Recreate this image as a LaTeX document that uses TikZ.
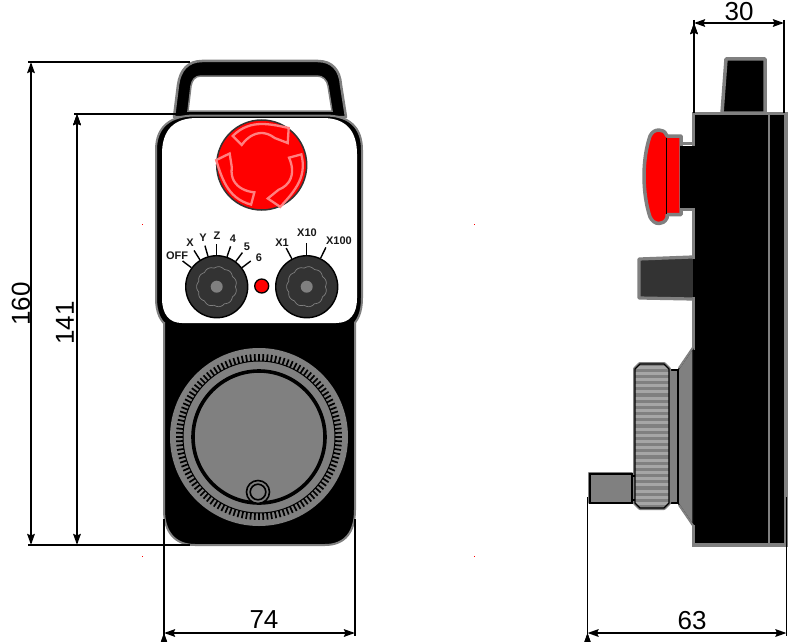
\documentclass[tikz,border=0pt]{standalone}
\usepackage{fontspec}
\setmainfont{Liberation Sans}
\usetikzlibrary{arrows.meta,positioning}
\definecolor{edgegray}{HTML}{808080}
\definecolor{knobgray}{HTML}{333333}
\definecolor{ridgegray}{HTML}{A6A6A6}
\definecolor{arrowpink}{HTML}{FF8080}
\tikzset{
    %Define standard arrow tip
    >={Stealth[length=11pt,width=7.5pt,inset=1.5pt]},
    %Define style for dimension lines
    dimline/.style={
           <->,
           draw=black,
           line width=2},
    extline/.style={
           draw=black,
           line width=1.9},
    dimlabel/.style={
           font=\fontsize{26}{26}\selectfont,
           inner sep=0pt},
    %Define style for the dial parts
    knob/.style={
           circle,
           draw=black,
           line width=1.4,
           fill=knobgray,
           minimum size=62,
           inner sep=0pt},
    knobhub/.style={
           circle,
           fill=edgegray,
           minimum size=12,
           inner sep=0pt},
    ticklabel/.style={
           font=\fontsize{11}{11}\selectfont\bfseries,
           text=black!90,
           inner sep=0pt},
    tick/.style={
           draw=black,
           line width=1.4},
    lamp/.style={
           circle,
           draw=black,
           line width=1.3,
           fill=red,
           minimum size=14,
           inner sep=0pt},
    %Define style for black housing parts
    housing/.style={
           fill=black,
           draw=edgegray,
           line width=3.5,
           line join=round},
    thinblack/.style={
           draw=black,
           line width=1.1}
}
\begin{document}
\begin{tikzpicture}[x=1pt,y=-1pt]
\useasboundingbox (0,0) rectangle (800,642);
%stray marks
\foreach \xx/\yy in {142.3/224.3,474.3/224.3,142.3/556.3,474.3/556.3}
  \fill[red] (\xx-.7,\yy-.7) rectangle (\xx+.7,\yy+.7);
%front view: handle
\draw[housing,line width=2.5] (174,117) -- (178,85) .. controls (180,70) and (188,61) .. (202,61)
  -- (318,61) .. controls (332,61) and (340,70) .. (341,85) -- (346,117) -- cycle;
\draw[fill=white,draw=edgegray,line width=1.5] (188,111) -- (191,86) .. controls (192,80) and (195,76) .. (201,76)
  -- (317,76) .. controls (323,76) and (327,80) .. (328,86) -- (332,111) -- cycle;
\draw[black,line width=1.5] (186,112.6) -- (334,112.6);
%front view: body
\draw[fill=black,draw=edgegray,line width=2,line join=round]
  (156,150) .. controls (156,127) and (170,115.5) .. (195,115.5) -- (325,115.5)
  .. controls (349,115.5) and (362,127) .. (362,150) -- (362,298)
  .. controls (362,312) and (358,322) .. (350,327) -- (169,327)
  .. controls (160,322) and (156,312) .. (156,298) -- cycle;
\draw[housing,line width=2] (164,322) -- (164,510) .. controls (164,532) and (175,545) .. (195,545)
  -- (325,545) .. controls (345,545) and (355,532) .. (355,510) -- (355,322);
\fill[white] (162,154) .. controls (162,130) and (174,118) .. (197,118) -- (323,118)
  .. controls (345,118) and (357,130) .. (357,154) -- (357,298)
  .. controls (357,314) and (350,323) .. (336,323) -- (182,323)
  .. controls (169,323) and (162,314) .. (162,298) -- cycle;
%emergency stop
\node[circle,draw=knobgray,line width=1.5,fill=red,minimum size=90,inner sep=0pt] (estop) at (261.7,165) {};
\foreach \ang in {0,120,240}{
  \begin{scope}[shift={(estop.center)},rotate=\ang]
    \draw[arrowpink,line width=2.3,line join=miter]
      (-29,-29) .. controls (-20,-38) and (-10,-41) .. (0,-41) .. controls (9,-41) and (18,-39) .. (27,-37)
      -- (26,-22) -- (13,-27) .. controls (8,-31) and (3,-32) .. (0,-32)
      .. controls (-8,-32) and (-15,-27) .. (-20,-20) -- cycle;
  \end{scope}
}
%selector knobs
\node[knob] (axisknob) at (216.7,286.7) {};
\node[knob] (stepknob) at (306.7,286.7) {};
\foreach \knobname in {axisknob,stepknob}{
  \node[knobhub] (\knobname hub) at (\knobname.center) {};
  \begin{scope}[shift={(\knobname.center)}]
    \draw[edgegray,line width=.7] plot[domain=0:360,samples=181,smooth]
      ({(18.7+1.4*abs(sin(5.5*\x)))*cos(\x)},{(18.7+1.4*abs(sin(5.5*\x)))*sin(\x)}) -- cycle;
  \end{scope}
}
\foreach \ang in {143,122,106,90,71,53,37}
  \draw[tick] (axisknob.\ang) -- ++(\ang:11pt);
\foreach \ang in {118,90,64}
  \draw[tick] (stepknob.\ang) -- ++(\ang:12pt);
\node[lamp] (lamp) at (261.7,286) {};
\node[ticklabel] (off) at (177,256) {OFF};
\node[ticklabel] (x) at (190,243) {X};
\node[ticklabel] (y) at (203,238) {Y};
\node[ticklabel] (z) at (217,236) {Z};
\node[ticklabel] (four) at (233,239) {4};
\node[ticklabel] (five) at (247,247) {5};
\node[ticklabel] (six) at (259,258) {6};
\node[ticklabel] (xone) at (282,243) {X1};
\node[ticklabel] (xten) at (307,233) {X10};
\node[ticklabel] (xhundred) at (339,241) {X100};
%handwheel
\coordinate (wheelc) at (259,437);
\fill[edgegray] (wheelc) circle[radius=89];
\begin{scope}[shift={(wheelc)}]
  \foreach \ang in {0,3,...,357}
    \draw[black,line width=1.7] (\ang:76pt) -- (\ang:83pt);
\end{scope}
\draw[black,line width=1] (wheelc) circle[radius=76];
\draw[black,line width=3.6] (wheelc) circle[radius=66];
\draw[black,line width=1.6,fill=edgegray] (258,492) circle[radius=11.5];
\draw[black,line width=1.6] (258,492) circle[radius=7.8];
%side view: handle and body
\draw[housing] (726,59) -- (765,59) -- (765,113) -- (722,113) -- cycle;
\draw[housing,line join=miter] (693.5,113.5) rectangle (786,545);
\fill[black] (691,146) rectangle (696,208);
\fill[black] (691,259) rectangle (696,297);
\fill[black] (691,350) rectangle (696,525);
\draw[edgegray,line width=2] (769,115) -- (769,544);
%side view: emergency stop
\draw[edgegray,line width=3.5] (681,143.5) -- (692,143.5) (681,209.5) -- (692,209.5);
\draw[draw=edgegray,line width=3.5,fill=red,line join=round]
  (667,136) -- (681,136) -- (681,214.5) -- (667,214.5) -- (667,218)
  .. controls (665,222) and (662,223.5) .. (659,223.5) .. controls (655,223.5) and (652,221) .. (650,217)
  .. controls (646,205) and (644,190) .. (644,176) .. controls (644,162) and (646,148) .. (650,136)
  .. controls (652,132) and (655,130) .. (659,130) .. controls (662,130) and (665,131) .. (667,136) -- cycle;
\draw[black,line width=.8] (666,138) -- (666,214);
\fill[black] (680,145.5) rectangle (696,207.5);
%side view: stub
\draw[draw=edgegray,line width=3.2,fill=knobgray,line join=round] (692,257) -- (639,259) -- (639,298) -- (692,299);
\fill[knobgray] (685,258.6) rectangle (692.5,297.4);
%side view: handwheel
\draw[thinblack,fill=edgegray] (678,370) -- (693,348) -- (693,525) -- (678,503) -- cycle;
\draw[edgegray,line width=2] (694,346) -- (679,368) (694,527) -- (679,505);
\draw[thinblack,fill=edgegray] (669,370) rectangle (678,503);
\draw[draw=edgegray,line width=4,line join=round] (635,369) -- (640,364) -- (664,364) -- (669,369) -- (669,503) -- (664,508) -- (640,508) -- (635,503) -- cycle;
\begin{scope}
  \clip (635,369) -- (640,364) -- (664,364) -- (669,369) -- (669,503) -- (664,508) -- (640,508) -- (635,503) -- cycle;
  \fill[edgegray] (635,364) rectangle (669,508);
  \foreach \yy in {367,373.2,...,508}
    \draw[ridgegray,line width=3] (635,\yy) -- (669,\yy);
\end{scope}
\draw[thinblack] (635,369) -- (640,364) -- (664,364) -- (669,369) -- (669,503) -- (664,508) -- (640,508) -- (635,503) -- cycle;
\draw[draw=edgegray,line width=2.6,line join=round] (589,473) rectangle (632,503);
\draw[thinblack,fill=edgegray] (590,474) rectangle (632,503);
\draw[thinblack] (632,476) -- (635,476) (632,500) -- (635,500);
%dimensions
\coordinate (topA) at (31,62);
\coordinate (topB) at (190,62);
\coordinate (midA) at (77,114);
\coordinate (midB) at (177,114);
\coordinate (lowA) at (31,545);
\coordinate (lowB) at (77,545);
\coordinate (lowC) at (190,545);
\path[extline] ([xshift=-3pt]topA) edge (topB) ([xshift=-3pt]midA) edge (midB) ([xshift=-3pt]lowA) edge (lowC);
\path[dimline] (topA) edge (lowA) (midA) edge (lowB);
\node[dimlabel,rotate=90] (dimtotal) at (21,304) {160};
\node[dimlabel,rotate=90] (dimbody) at (65,323) {141};
\coordinate (widA) at (164,633);
\coordinate (widB) at (355,633);
\coordinate (widAup) at (164,519);
\coordinate (widBup) at (355,519);
\path[extline] (widAup) edge ([yshift=-3pt]widA) (widBup) edge ([yshift=-3pt]widB);
\path[dimline] (widA) edge (widB);
\node[dimlabel] (dimwidth) at (264,620) {74};
\coordinate (lenA) at (587.5,633);
\coordinate (lenB) at (786.5,633);
\coordinate (lenAup) at (587.5,497);
\coordinate (lenBup) at (786.5,497);
\path[extline] (lenAup) edge ([yshift=-3pt]lenA) (lenBup) edge ([yshift=-3pt]lenB);
\path[dimline] (lenA) edge (lenB);
\node[dimlabel] (dimlength) at (692,621) {63};
\coordinate (depA) at (694,23);
\coordinate (depB) at (784,23);
\coordinate (depAlow) at (694,113);
\coordinate (depBlow) at (784,113);
\path[extline] ([yshift=3pt]depA) edge (depAlow) ([yshift=3pt]depB) edge (depBlow);
\path[dimline] (depA) edge (depB);
\node[dimlabel] (dimdepth) at (739,12) {30};
\end{tikzpicture}
\end{document}
